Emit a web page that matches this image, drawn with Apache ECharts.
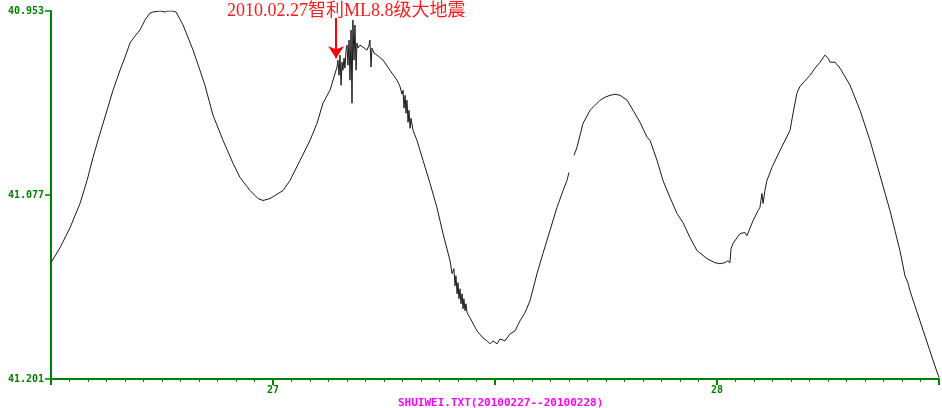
<!DOCTYPE html>
<html><head><meta charset="utf-8">
<script src="https://cdn.jsdelivr.net/npm/echarts@6/dist/echarts.min.js"></script>
<style>html,body{margin:0;padding:0;background:#fff}#c{width:942px;height:408px}</style>
</head><body><div id="c"></div>
<script>
// hours since start of record
const hours = [
  0, 0.49, 1.03, 1.57, 1.95, 2.27, 2.65, 3.03, 3.35, 3.73,
  4.00, 4.27, 4.54, 4.81, 5.08, 5.35, 5.51, 5.89, 6.16, 6.27,
  6.59, 6.76, 7.14, 7.68, 8.05, 8.32, 8.76, 9.30, 9.84, 10.22,
  10.76, 11.19, 11.46, 11.84, 12.54, 12.92, 13.46, 14.00, 14.38, 14.70,
  15.08, 15.46, 15.51, 15.57, 15.62, 15.68, 15.73, 15.78, 15.84, 15.89,
  15.95, 16.00, 16.05, 16.11, 16.16, 16.22, 16.27, 16.32, 16.38, 16.43,
  16.49, 16.54, 16.59, 16.70, 16.86, 17.08, 17.19, 17.24, 17.30, 17.35,
  17.46, 17.62, 17.95, 18.32, 18.70, 18.86, 18.97, 19.03, 19.08, 19.14,
  19.19, 19.24, 19.30, 19.35, 19.41, 19.46, 19.57, 19.78, 20.11, 20.49,
  20.86, 21.19, 21.57, 21.68, 21.78, 21.84, 21.89, 21.95, 22.00, 22.05,
  22.11, 22.16, 22.22, 22.27, 22.32, 22.38, 22.43, 22.49, 22.65, 23.03,
  23.35, 23.57, 23.73, 23.89, 24.11, 24.27, 24.54, 24.81, 25.08, 25.35,
  25.62, 25.89, 26.27, 26.59, 26.97, 27.35, 27.68, 27.89, 28.00, 28.13,
  28.27, 28.43, 28.76, 29.14, 29.68, 29.95, 30.22, 30.49, 30.76, 31.14,
  31.46, 31.84, 32.22, 32.38, 32.76, 33.08, 33.46, 33.84, 34.16, 34.54,
  34.92, 35.46, 35.89, 36.16, 36.43, 36.59, 36.70, 36.76, 36.86, 37.24,
  37.51, 37.62, 37.95, 38.22, 38.32, 38.43, 38.49, 38.59, 38.70, 38.97,
  39.41, 39.95, 40.11, 40.32, 40.49, 41.03, 41.30, 41.57, 41.84, 42.00,
  42.11, 42.38, 42.65, 43.19, 43.73, 44.27, 44.81, 45.35, 45.89, 46.16,
  46.32, 46.43, 46.97, 47.51, 47.78, 48.00
];
// water level (m)
const level = [
  41.1226, 41.1125, 41.0990, 41.0827, 41.0672, 41.0517, 41.0354, 41.0199, 41.0064, 40.9929,
  40.9841, 40.9746, 40.9699, 40.9658, 40.9591, 40.9544, 40.9537, 40.9530, 40.9537, 40.9530,
  40.9530, 40.9537, 40.9625, 40.9794, 40.9929, 41.0030, 41.0233, 41.0402, 41.0557, 41.0652,
  41.0740, 41.0794, 41.0807, 41.0794, 41.0740, 41.0672, 41.0537, 41.0402, 41.0287, 41.0152,
  41.0064, 40.9908, 40.9861, 40.9963, 40.9827, 41.0030, 40.9875, 40.9929, 40.9848, 40.9915,
  40.9794, 40.9760, 40.9895, 40.9726, 40.9996, 40.9658, 41.0152, 40.9591, 40.9861, 40.9625,
  40.9929, 40.9746, 40.9780, 40.9760, 40.9773, 40.9794, 40.9760, 40.9726, 40.9908, 40.9780,
  40.9814, 40.9827, 40.9861, 40.9929, 40.9996, 41.0037, 41.0091, 41.0064, 41.0185, 41.0098,
  41.0219, 41.0131, 41.0280, 41.0199, 41.0321, 41.0253, 41.0334, 41.0402, 41.0537, 41.0692,
  41.0854, 41.1030, 41.1213, 41.1300, 41.1267, 41.1382, 41.1314, 41.1436, 41.1361, 41.1469,
  41.1402, 41.1503, 41.1436, 41.1537, 41.1469, 41.1550, 41.1503, 41.1564, 41.1598, 41.1686,
  41.1733, 41.1753, 41.1773, 41.1753, 41.1773, 41.1740, 41.1753, 41.1706, 41.1686, 41.1618,
  41.1564, 41.1483, 41.1300, 41.1165, 41.1010, 41.0854, 41.0740, 41.0672, 41.0618, null,
  41.0503, 41.0449, 41.0287, 41.0199, 41.0131, 41.0111, 41.0098, 41.0091, 41.0098, 41.0131,
  41.0199, 41.0280, 41.0381, 41.0402, 41.0537, 41.0672, 41.0787, 41.0895, 41.0956, 41.1057,
  41.1145, 41.1199, 41.1226, 41.1233, 41.1226, 41.1213, 41.1226, 41.1132, 41.1098, 41.1030,
  41.1023, 41.1044, 41.0942, 41.0875, 41.0854, 41.0760, 41.0827, 41.0740, 41.0672, 41.0584,
  41.0469, 41.0334, 41.0219, 41.0084, 41.0037, 40.9963, 40.9915, 40.9875, 40.9827, 40.9848,
  40.9875, 40.9875, 40.9915, 41.0030, 41.0199, 41.0402, 41.0638, 41.0875, 41.1145, 41.1314,
  41.1361, 41.1415, 41.1618, 41.1821, 41.1922, 41.2000
];
const yTicks = [40.953, 41.077, 41.201];
const xLabelHours = [12, 36];
const xLabelTexts = ['27', '28'];
const quakeHour = 15.41;
const quakeArrow = [40.9577, 40.9848];
const quakeText = '2010.02.27智利ML8.8级大地震';
const titleText = 'SHUIWEI.TXT(20100227--20100228)';

const green = '#008000';
const data = hours.map((h, i) => [h, level[i] === null ? '-' : level[i]]);

const chart = echarts.init(document.getElementById('c'), null, {renderer: 'canvas'});
chart.setOption({
  animation: false,
  backgroundColor: '#fff',
  title: {
    text: titleText, left: 393, top: 393,
    textStyle: {color: '#ff00ff', fontSize: 11, fontWeight: 'bold', fontFamily: 'DejaVu Sans Mono'}
  },
  grid: {left: 51, right: 2, top: 11, bottom: 29, containLabel: false},
  xAxis: {
    type: 'value', min: 0, max: 48, interval: 12,
    axisLine: {show: true, onZero: false, lineStyle: {color: green, width: 2}},
    axisTick: {show: true, inside: false, length: 6, lineStyle: {color: green, width: 2}},
    minorTick: {show: true, splitNumber: 12, length: 3, lineStyle: {color: green, width: 1}},
    splitLine: {show: false},
    axisLabel: {
      margin: 6, color: green, fontSize: 10, fontWeight: 'bold', fontFamily: 'DejaVu Sans Mono',
      formatter: v => { const k = xLabelHours.indexOf(v); return k >= 0 ? xLabelTexts[k] : ''; }
    }
  },
  yAxis: {
    type: 'value', inverse: true, min: yTicks[0], max: yTicks[yTicks.length - 1],
    axisLine: {show: true, onZero: false, lineStyle: {color: green, width: 2}},
    axisTick: {show: true, length: 6, customValues: yTicks, lineStyle: {color: green, width: 1.5}},
    splitLine: {show: false},
    axisLabel: {
      margin: 7, color: green, fontSize: 10, fontWeight: 'bold', fontFamily: 'DejaVu Sans Mono',
      customValues: yTicks, formatter: v => v.toFixed(3)
    }
  },
  graphic: [{
    type: 'text', left: 227, top: 2,
    style: {text: quakeText, fill: '#ff1a1a', fontSize: 18, fontFamily: 'Liberation Serif, "Noto Sans CJK SC"'}
  }],
  series: [{
    type: 'line', data: data, showSymbol: false, symbol: 'none', connectNulls: false,
    lineStyle: {color: '#1a1a1a', width: 1}, z: 3,
    markLine: {
      silent: true, symbol: ['none', 'arrow'], symbolSize: 12,
      label: {show: false},
      lineStyle: {color: '#ff0000', width: 2, type: 'solid'},
      data: [[{coord: [quakeHour, quakeArrow[0]]}, {coord: [quakeHour, quakeArrow[1]]}]]
    }
  }]
});
</script>
</body></html>
